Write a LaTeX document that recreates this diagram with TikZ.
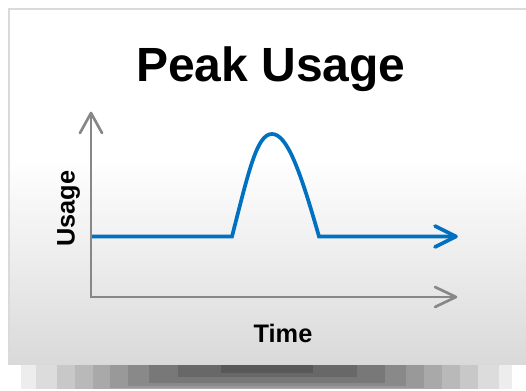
\documentclass[tikz,border=0pt]{standalone}
\usepackage{fontspec}
\setmainfont{Liberation Sans}
\definecolor{axisgray}{RGB}{135,135,135}
\definecolor{usageblue}{RGB}{0,112,192}
\definecolor{cardedge}{RGB}{218,218,218}
\definecolor{cardbottom}{RGB}{217,217,217}
\tikzset{every picture/.style={line width=0.75pt}}

\begin{document}
\begin{tikzpicture}[x=0.75pt,y=0.75pt,yscale=-1,xscale=1,
	axisline/.style={draw=axisgray, line width=2},
	usageline/.style={draw=usageblue, line width=2.8},
	tiphead/.style={line cap=round, line join=round},
	labeltext/.style={font=\fontsize{19}{23}\selectfont\bfseries}]
	\useasboundingbox (0,0) rectangle (526,391);

	%Shape: Shadow bands
	\fill [color={rgb, 255:red, 237; green, 237; blue, 237 }] (21,365) rectangle (512,389) ;
	\fill [color={rgb, 255:red, 220; green, 220; blue, 220 }] (36,365) rectangle (499,389) ;
	\fill [color={rgb, 255:red, 200; green, 200; blue, 200 }] (57,365) rectangle (478,389) ;
	\fill [color={rgb, 255:red, 185; green, 185; blue, 185 }] (75,365) rectangle (460,389) ;
	\fill [color={rgb, 255:red, 169; green, 169; blue, 169 }] (93,365) rectangle (442,389) ;
	\fill [color={rgb, 255:red, 153; green, 153; blue, 153 }] (110,365) rectangle (424,388) ;
	\fill [color={rgb, 255:red, 137; green, 137; blue, 137 }] (128,365) rectangle (406,386) ;
	\fill [color={rgb, 255:red, 120; green, 120; blue, 120 }] (149,365) rectangle (385,383) ;
	\fill [color={rgb, 255:red, 104; green, 104; blue, 104 }] (178,365) rectangle (357,377) ;
	\fill [color={rgb, 255:red, 88; green, 88; blue, 88 }] (221,365) rectangle (313,373) ;

	%Shape: Card
	\fill [white] (9,9) rectangle (540,160) ;
	\shade [top color=white, bottom color=cardbottom] (9,159) rectangle (540,365) ;
	\draw [draw=cardedge, line width=2] (9,365) -- (9,9) -- (540,9) ;

	% Points of the chart
	\coordinate (origin) at (91,297);
	\coordinate (ytip) at (91,113);
	\coordinate (xtip) at (456,297);
	\coordinate (bstart) at (92,236.5);
	\coordinate (rise) at (232,236.5);
	\coordinate (peak) at (272,134);
	\coordinate (fall) at (319,236.5);
	\coordinate (btip) at (456,236.5);

	%Straight Lines: axes
	\draw [axisline]  (ytip) -- (origin) -- (xtip) ;
	\draw [axisline, tiphead, shift={(ytip)}, rotate = 90]  (20,-11) -- (0,0) -- (20,11) ;
	\draw [axisline, tiphead, shift={(xtip)}, rotate = 180]  (21,-10) -- (0,0) -- (21,10) ;

	%Curve Lines: usage
	\draw [usageline]  (bstart) -- (rise) .. controls (249,170) and (257,134) .. (peak) .. controls (287,134) and (300,170) .. (fall) -- (btip) ;
	\draw [usageline, tiphead, shift={(btip)}, rotate = 180]  (21,-10.5) -- (0,0) -- (21,10.5) ;

	% Text Node
	\node [anchor=base, font=\fontsize{36}{43}\selectfont\bfseries] (title) at (271,82) {Peak Usage};
	% Text Node
	\node [labeltext, anchor=base, rotate=90] (ylabel) at (74.5,208.5) {Usage};
	% Text Node
	\node [labeltext, anchor=base] (xlabel) at (283,343) {Time};

\end{tikzpicture}
\end{document}
